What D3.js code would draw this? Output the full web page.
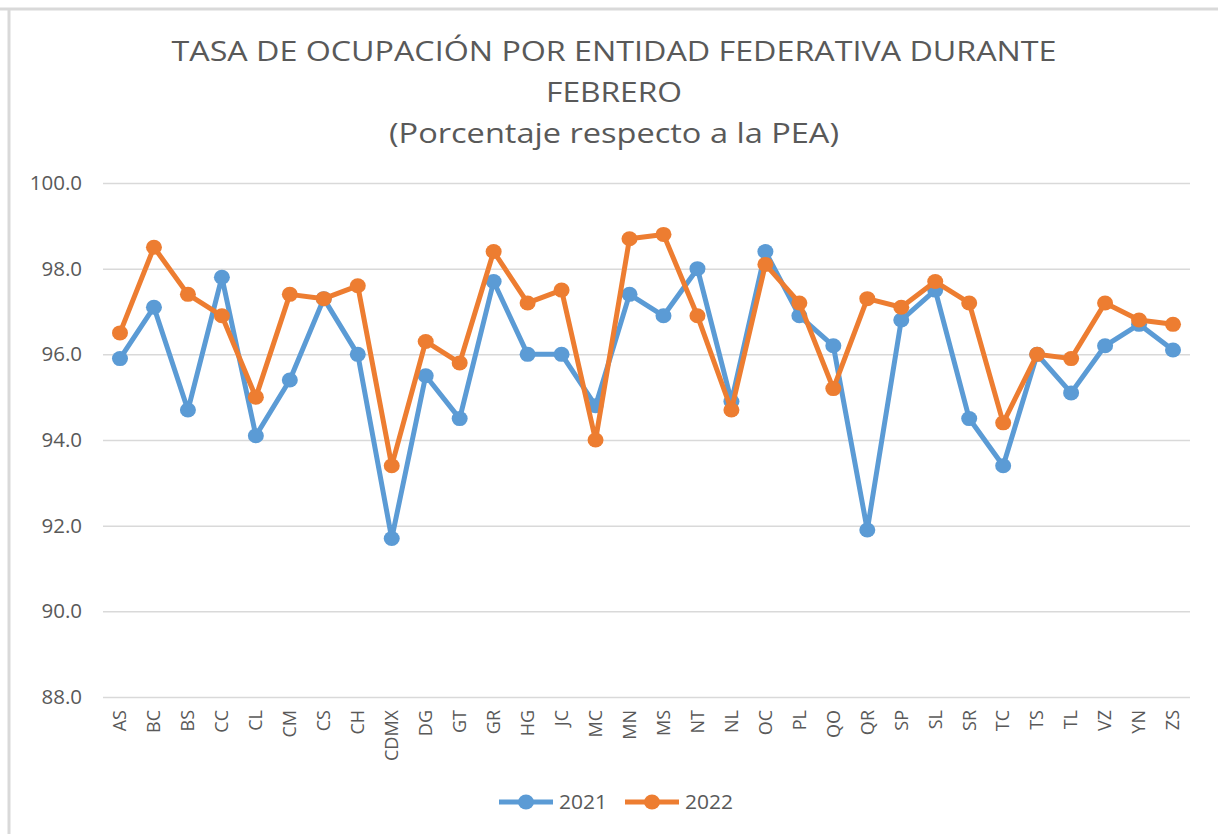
<!DOCTYPE html>
<html>
<head>
<meta charset="utf-8">
<script src="https://cdn.jsdelivr.net/npm/d3@7"></script>
<style>
  body { margin: 0; background: #fff; }
  svg { display: block; }
  text { font-family: "Open Sans", "Liberation Sans", sans-serif; fill: #595959; }
</style>
</head>
<body>
<svg id="chart" width="1218" height="834"></svg>
<script>
// entidades federativas
const estados = ["AS","BC","BS","CC","CL","CM","CS","CH","CDMX","DG","GT","GR","HG","JC","MC","MN",
  "MS","NT","NL","OC","PL","QO","QR","SP","SL","SR","TC","TS","TL","VZ","YN","ZS"];
const tasa2021 = [95.9,97.1,94.7,97.8,94.1,95.4,97.3,96.0,91.7,95.5,94.5,97.7,96.0,96.0,94.8,97.4,
  96.9,98.0,94.9,98.4,96.9,96.2,91.9,96.8,97.5,94.5,93.4,96.0,95.1,96.2,96.7,96.1];
const tasa2022 = [96.5,98.5,97.4,96.9,95.0,97.4,97.3,97.6,93.4,96.3,95.8,98.4,97.2,97.5,94.0,98.7,
  98.8,96.9,94.7,98.1,97.2,95.2,97.3,97.1,97.7,97.2,94.4,96.0,95.9,97.2,96.8,96.7];
const yTicks = [88,90,92,94,96,98,100];
const titulo = ["TASA DE OCUPACIÓN POR ENTIDAD FEDERATIVA DURANTE", "FEBRERO", "(Porcentaje respecto a la PEA)"];

const azul = "#5B9BD5", naranja = "#ED7D31";
const series = [
  {name: "2021", values: tasa2021, color: azul},
  {name: "2022", values: tasa2022, color: naranja}
];

const svg = d3.select("#chart");
const W = 1218, H = 834;
const m = {left: 103, right: 28, top: 183, bottom: 137};

// marco del grafico (solo arriba e izquierda visibles)
svg.append("line").attr("x1", 0).attr("x2", W).attr("y1", 9).attr("y2", 9)
  .attr("stroke", "#D9D9D9").attr("stroke-width", 3);
svg.append("line").attr("x1", 9).attr("x2", 9).attr("y1", 9).attr("y2", H)
  .attr("stroke", "#D9D9D9").attr("stroke-width", 3);

// titulo
const tw = [885, 136, 450];
svg.append("g").selectAll("text").data(titulo).join("text")
  .attr("x", 614).attr("y", (d, i) => 61 + i * 41)
  .attr("text-anchor", "middle")
  .attr("font-size", 28)
  .attr("textLength", (d, i) => tw[i])
  .attr("lengthAdjust", "spacingAndGlyphs")
  .text(d => d);

const x = d3.scaleBand().domain(estados).range([m.left, W - m.right]);
const y = d3.scaleLinear().domain([88, 100]).range([H - m.bottom, m.top]);

// eje y + rejilla
const gy = svg.append("g").attr("transform", `translate(${m.left},0)`)
  .call(d3.axisLeft(y).tickValues(yTicks).tickFormat(d3.format(".1f"))
    .tickSize(-(W - m.right - m.left)).tickPadding(21));
gy.select(".domain").remove();
gy.selectAll(".tick line").attr("stroke", "#D9D9D9").attr("stroke-width", 1.5);
gy.selectAll(".tick text").attr("font-size", 20.5).attr("fill", "#595959")
  .attr("font-family", "'Open Sans', sans-serif");

// eje x
const gx = svg.append("g").attr("transform", `translate(0,${H - m.bottom})`)
  .call(d3.axisBottom(x).tickSize(0));
gx.select(".domain").remove();
gx.selectAll(".tick text")
  .attr("font-size", 18).attr("fill", "#595959")
  .attr("font-family", "'Open Sans', sans-serif")
  .attr("transform", "rotate(-90)")
  .attr("text-anchor", "end")
  .attr("x", -13).attr("y", 0).attr("dy", "0.35em");

// lineas
const line = d3.line()
  .x((d, i) => x(estados[i]) + x.bandwidth() / 2)
  .y(d => y(d));

series.forEach(s => {
  const g = svg.append("g");
  g.append("path").datum(s.values)
    .attr("fill", "none").attr("stroke", s.color)
    .attr("stroke-width", 5).attr("stroke-linejoin", "round")
    .attr("d", line);
  g.selectAll("ellipse").data(s.values).join("ellipse")
    .attr("cx", (d, i) => x(estados[i]) + x.bandwidth() / 2)
    .attr("cy", d => y(d))
    .attr("rx", 8).attr("ry", 7.5)
    .attr("fill", s.color);
});

// leyenda
const leg = svg.append("g").selectAll("g").data(series).join("g")
  .attr("transform", (d, i) => `translate(${499 + i * 126},802)`);
leg.append("line").attr("x1", 0).attr("x2", 54)
  .attr("stroke", d => d.color).attr("stroke-width", 5);
leg.append("ellipse").attr("cx", 27).attr("rx", 8).attr("ry", 7.5).attr("fill", d => d.color);
leg.append("text").attr("x", 60).attr("dy", "0.35em").attr("font-size", 20.5)
  .attr("textLength", 48).attr("lengthAdjust", "spacingAndGlyphs").text(d => d.name);
</script>
</body>
</html>
